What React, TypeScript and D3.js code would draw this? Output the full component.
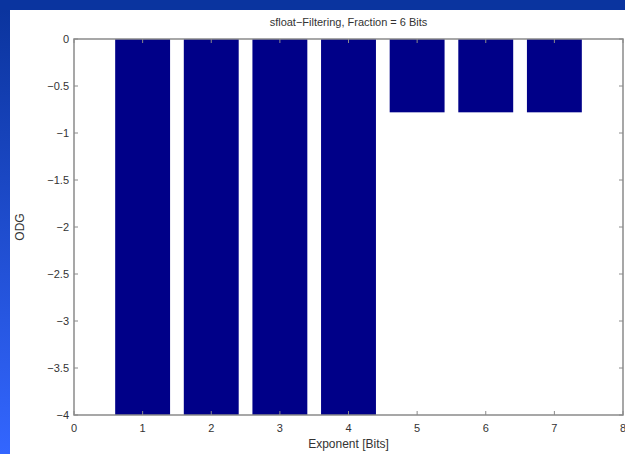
import React from "react";
import * as d3 from "d3";

const categories = [1, 2, 3, 4, 5, 6, 7];
const odgValues = [-4, -4, -4, -4, -0.78, -0.78, -0.78];
const xTicks = [0, 1, 2, 3, 4, 5, 6, 7, 8];
const yTicks = [0, -0.5, -1, -1.5, -2, -2.5, -3, -3.5, -4];
const title = "sfloat\u2212Filtering, Fraction = 6 Bits";
const xLabel = "Exponent [Bits]";
const yLabel = "ODG";

const W = 625;
const H = 454;
const left = 74;
const right = 623;
const top = 39;
const bottom = 415;

export default function App() {
  const x = d3.scaleLinear().domain([0, 8]).range([left, right]);
  const y = d3.scaleLinear().domain([-4, 0]).range([bottom, top]);
  const barW = x(0.8) - x(0);
  const fmt = (v: number) => (v < 0 ? "\u2212" + String(Math.abs(v)) : String(v));
  const font = "Liberation Sans, Arial, sans-serif";
  const axisColor = "#8a8a8a";
  const textColor = "#333";
  return (
    <div style={{ position: "absolute", left: 0, top: 0 }}>
      <svg width={W} height={H} style={{ display: "block" }}>
        <defs>
          <linearGradient id="lg" x1="0" y1="0" x2="0" y2="1">
            <stop offset="0" stopColor="#0a339c" />
            <stop offset="1" stopColor="#3366ff" />
          </linearGradient>
        </defs>
        <rect x={0} y={0} width={W} height={H} fill="url(#lg)" />
        <rect x={0} y={0} width={W} height={10} fill="#0a349f" />
        <rect x={10} y={10} width={W - 10} height={H - 10} fill="#ffffff" />
        {categories.map((c, i) => (
          <rect
            key={c}
            x={x(c) - barW / 2}
            y={y(0)}
            width={barW}
            height={y(odgValues[i]) - y(0)}
            fill="#000088"
          />
        ))}
        <rect
          x={left}
          y={top}
          width={right - left}
          height={bottom - top}
          fill="none"
          stroke={axisColor}
          strokeWidth={1.5}
        />
        {xTicks.map((t) => (
          <g key={"x" + t}>
            <line x1={x(t)} x2={x(t)} y1={bottom} y2={bottom - 4} stroke={axisColor} />
            <line x1={x(t)} x2={x(t)} y1={top} y2={top + 4} stroke={axisColor} />
            <text
              x={x(t)}
              y={bottom + 17}
              textAnchor="middle"
              fontFamily={font}
              fontSize={11}
              fill={textColor}
            >
              {t}
            </text>
          </g>
        ))}
        {yTicks.map((t) => (
          <g key={"y" + t}>
            <line x1={left} x2={left + 4} y1={y(t)} y2={y(t)} stroke={axisColor} />
            <line x1={right} x2={right - 4} y1={y(t)} y2={y(t)} stroke={axisColor} />
            <text
              x={left - 5}
              y={y(t) + 4}
              textAnchor="end"
              fontFamily={font}
              fontSize={11}
              fill={textColor}
            >
              {fmt(t)}
            </text>
          </g>
        ))}
        <text
          x={(left + right) / 2}
          y={26}
          textAnchor="middle"
          fontFamily={font}
          fontSize={11}
          fill={textColor}
        >
          {title}
        </text>
        <text
          x={(left + right) / 2}
          y={448}
          textAnchor="middle"
          fontFamily={font}
          fontSize={12}
          fill={textColor}
        >
          {xLabel}
        </text>
        <text
          transform={`translate(24, ${(top + bottom) / 2}) rotate(-90)`}
          textAnchor="middle"
          fontFamily={font}
          fontSize={12}
          fill={textColor}
        >
          {yLabel}
        </text>
      </svg>
    </div>
  );
}
